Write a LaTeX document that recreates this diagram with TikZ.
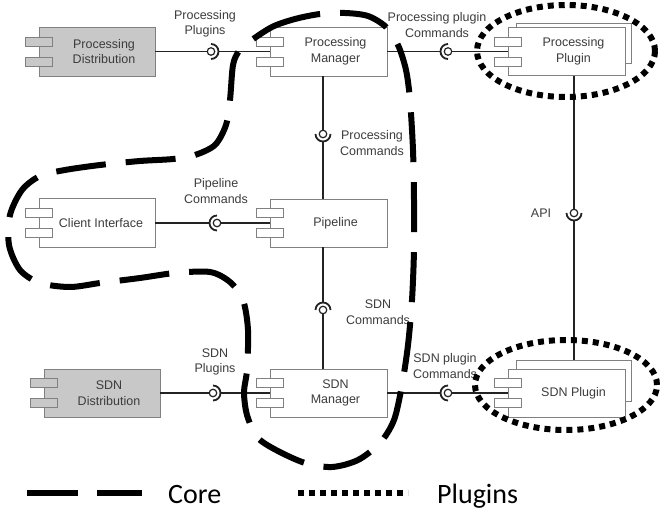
\documentclass[tikz,border=0pt]{standalone}
\usepackage{fontspec}
\setmainfont{Liberation Sans}
\newfontfamily\legendfont{Carlito}
\usepackage{tikz}

\definecolor{boxgray}{RGB}{128,128,128}
\definecolor{distgray}{RGB}{200,200,200}
\definecolor{textgray}{RGB}{60,60,60}
\definecolor{linegray}{RGB}{35,35,35}

\newcommand{\comptabs}[2]{%
  \draw[comptab,fill=#2] ([shift={(-13,5.5)}]#1.west) rectangle ++(27,9);
  \draw[comptab,fill=#2] ([shift={(-13,-14.5)}]#1.west) rectangle ++(27,9);
}
\newcommand{\lollipop}[3]{%
  \node[ball] (#1) at #2 {};
  \draw[sock] ([shift={(#3-90:7.5)}]#1.center) arc[start angle=#3-90, end angle=#3+90, radius=7.5];
  \coordinate (#1s) at ([shift={(#3:7.5)}]#1.center);
}

\begin{document}
\begin{tikzpicture}[x=1pt,y=1pt]
      \tikzstyle{comp}=[rectangle,draw=boxgray,fill=white,line width=0.9,minimum width=117,minimum height=48,inner sep=0]
      \tikzstyle{ctext}=[text=textgray,font=\fontsize{12.5}{15.5}\selectfont,align=center,xshift=7]
      \tikzstyle{lbl}=[text=textgray,font=\fontsize{12.5}{15.5}\selectfont,align=center,inner sep=0]
      \tikzstyle{comptab}=[draw=boxgray,line width=0.9]
      \tikzstyle{conn}=[draw=linegray,line width=1.2]
      \tikzstyle{ball}=[circle,draw=linegray,fill=white,line width=1.2,minimum size=7.5,inner sep=0]
      \tikzstyle{sock}=[draw=linegray,line width=1.8]
      \tikzstyle{coreline}=[draw=black,line width=6,dash pattern=on 50 off 20]
      \tikzstyle{plugline}=[draw=black,line width=6,dash pattern=on 6 off 5]
      \useasboundingbox (0,0) rectangle (661,-510);

      \node[comp,fill=distgray,minimum width=116,minimum height=49,label={[ctext]center:Processing\\Distribution}] (pdist) at (97,-51.5) {};
      \node[comp,minimum height=49,label={[ctext]center:Processing\\Manager}] (pmgr) at (328.5,-51.5) {};
      \node[comp,minimum width=115,minimum height=40] (pplugb) at (573.5,-43) {};
      \node[comp,label={[ctext]center:Processing\\Plugin}] (pplug) at (566.5,-51.5) {};
      \node[comp,minimum width=116,minimum height=49,label={[ctext,xshift=-3]center:Client Interface}] (client) at (97,-223) {};
      \node[comp,label={[ctext]center:Pipeline}] (pipe) at (328.5,-223) {};
      \node[comp,fill=distgray,minimum width=116,label={[ctext]center:SDN\\Distribution}] (sdist) at (102,-393) {};
      \node[comp,label={[ctext]center:SDN\\Manager}] (smgr) at (328.5,-393) {};
      \node[comp,minimum width=115,minimum height=41] (splugb) at (573.5,-380.5) {};
      \node[comp,label={[ctext]center:SDN Plugin}] (splug) at (566.5,-393) {};

      \comptabs{pdist}{distgray}
      \comptabs{pmgr}{white}
      \comptabs{pplug}{white}
      \comptabs{client}{white}
      \comptabs{pipe}{white}
      \comptabs{sdist}{distgray}
      \comptabs{smgr}{white}
      \comptabs{splug}{white}

      \coordinate (l2) at (323,-134);
      \coordinate (l3) at (323,-310);
      \coordinate (l8) at (574,-213);
      \draw[conn] (pdist) -- (211,-51.5);
      \draw[conn] (l2 |- pmgr.south) -- (l2);
      \draw[conn] (l3) -- (l3 |- smgr.north);
      \draw[conn] (l8 |- pplug.south) -- (l8);
      \draw[conn] (sdist) -- (213,-393);
      \draw[conn] (448,-51.5) -- (pplug);
      \draw[conn] (217,-223) -- (pipe);
      \draw[conn] (448,-393) -- (splug);

      \lollipop{l1}{(211,-51.5)}{0}
      \lollipop{l2}{(323,-134)}{-90}
      \lollipop{l3}{(323,-310)}{90}
      \lollipop{l4}{(217,-223)}{180}
      \lollipop{l5}{(213,-393)}{0}
      \lollipop{l6}{(448,-393)}{180}
      \lollipop{l7}{(448,-51.5)}{180}
      \lollipop{l8}{(574,-213)}{-90}

      \draw[conn] (l1s) -- (pmgr);
      \draw[conn] (pmgr) -- (l7s);
      \draw[conn] (l2s) -- (l2s |- pipe.north);
      \draw[conn] (l3s |- pipe.south) -- (l3s);
      \draw[conn] (client) -- (l4s);
      \draw[conn] (l5s) -- (smgr);
      \draw[conn] (smgr) -- (l6s);
      \draw[conn] (l8s) -- (l8s |- splugb.north);

      \node[lbl] (lbl1) at (205,-24) {Processing\\Plugins};
      \node[lbl] (lbl7) at (437,-25) {Processing plugin\\Commands};
      \node[lbl] (lbl2) at (372,-143) {Processing\\Commands};
      \node[lbl] (lbl4) at (216,-191) {Pipeline\\Commands};
      \node[lbl] (lbl8) at (541,-213) {API};
      \node[lbl] (lbl3) at (378,-312) {SDN\\Commands};
      \node[lbl] (lbl5) at (215,-362) {SDN\\Plugins};
      \node[lbl] (lbl6) at (445,-366) {SDN plugin\\Commands};

      \draw[coreline] plot[smooth cycle] coordinates {
        (249,-42) (272,-27) (295,-19) (320,-14) (345,-13) (368,-16) (386,-27)
        (398,-45) (406,-70) (410,-100) (413,-150) (414,-200) (414,-250)
        (412,-300) (408,-345) (402,-385) (394,-420) (380,-443) (358,-460)
        (332,-467) (305,-463) (276,-450) (257,-437) (247,-415) (244,-392)
        (247,-370) (248,-330) (243,-300) (230,-282) (210,-272) (175,-273)
        (140,-278) (100,-283) (70,-287) (40,-283) (20,-270) (9,-245)
        (10,-215) (22,-190) (40,-176) (65,-170) (100,-165) (140,-161)
        (173,-159) (195,-155) (215,-145) (226,-125) (230,-100) (233,-65)
        (239,-51)};
      \draw[plugline] (566,-51) ellipse [x radius=89, y radius=46];
      \draw[plugline] (566,-385) ellipse [x radius=91, y radius=45];

      \draw[coreline,dash pattern=on 51 off 19] (27,-493) -- (142,-493);
      \node[anchor=base west,inner sep=0,font=\legendfont\fontsize{28}{30}\selectfont] (corelbl) at (168,-503) {Core};
      \draw[plugline] (298,-493) -- (408,-493);
      \node[anchor=base west,inner sep=0,font=\legendfont\fontsize{28}{30}\selectfont] (pluglbl) at (437,-503) {Plugins};
\end{tikzpicture}
\end{document}
